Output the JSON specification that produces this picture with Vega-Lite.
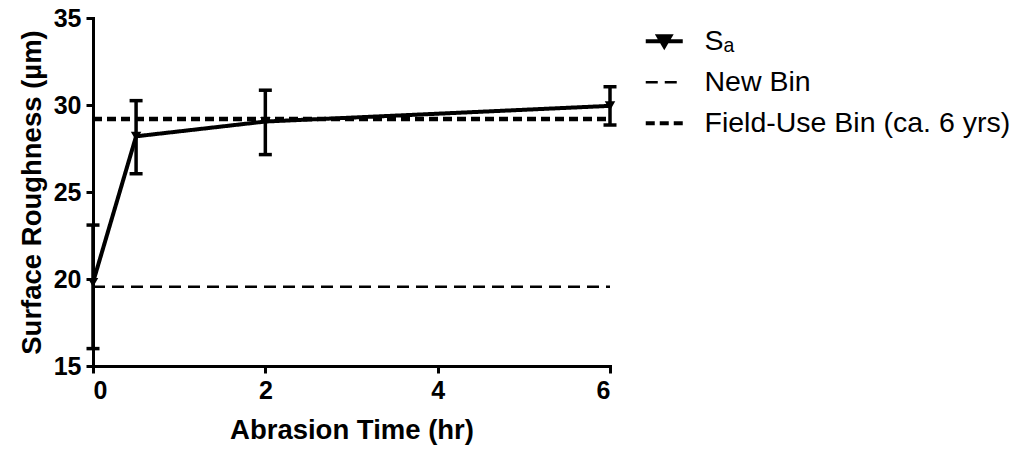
{
  "$schema": "https://vega.github.io/schema/vega-lite/v6.json",
  "width": 517,
  "height": 348,
  "autosize": {"type": "none"},
  "padding": {"left": 93, "top": 18, "right": 408, "bottom": 85},
  "background": "white",
  "config": {
    "view": {"stroke": null},
    "axis": {
      "grid": false,
      "domainColor": "black",
      "domainWidth": 3,
      "domainCap": "square",
      "tickColor": "black",
      "tickWidth": 3,
      "tickSize": 7,
      "labelFont": "Liberation Sans",
      "labelFontWeight": "bold",
      "labelFontSize": 25,
      "labelColor": "black",
      "titleFont": "Liberation Sans",
      "titleFontWeight": "bold",
      "titleFontSize": 27.5,
      "titleColor": "black"
    }
  },
  "data": {
    "values": [
      {"series": "Sₐ", "x": 0, "y": 19.8, "lo": 16.0, "hi": 23.1},
      {"series": "Sₐ", "x": 0.5, "y": 28.2, "lo": 26.05, "hi": 30.25},
      {"series": "Sₐ", "x": 2, "y": 29.05, "lo": 27.15, "hi": 30.85},
      {"series": "Sₐ", "x": 6, "y": 29.95, "lo": 28.85, "hi": 31.05},
      {"series": "New Bin", "x": 0, "y": 19.55},
      {"series": "New Bin", "x": 6, "y": 19.55},
      {"series": "Field-Use Bin (ca. 6 yrs)", "x": 0, "y": 29.2},
      {"series": "Field-Use Bin (ca. 6 yrs)", "x": 6, "y": 29.2}
    ]
  },
  "encoding": {
    "x": {
      "field": "x", "type": "quantitative",
      "scale": {"domain": [0, 6], "nice": false, "zero": false},
      "axis": {"values": [0, 2, 4, 6], "format": "d", "title": "Abrasion Time (hr)", "labelPadding": 5, "titlePadding": 13}
    }
  },
  "layer": [
    {
      "transform": [{"filter": "datum.series === 'New Bin'"}],
      "mark": {"type": "line", "color": "black", "strokeCap": "butt", "strokeWidth": 2.5},
      "encoding": {
        "y": {
          "field": "y", "type": "quantitative",
          "scale": {"domain": [15, 35], "nice": false, "zero": false},
          "axis": {"values": [15, 20, 25, 30, 35], "title": "Surface Roughness (µm)", "labelPadding": 5, "titlePadding": 7}
        },
        "strokeDash": {
          "field": "series", "type": "nominal",
          "scale": {
            "domain": ["Sₐ", "New Bin", "Field-Use Bin (ca. 6 yrs)"],
            "range": [[1, 0], [12, 7], [9, 5]]
          },
          "legend": {
            "title": null,
            "orient": "none",
            "legendX": 557,
            "legendY": 9,
            "padding": 0,
            "symbolSize": 1369,
            "symbolStrokeColor": "black",
            "labelFont": "Liberation Sans",
            "labelFontSize": 28.5,
            "labelColor": "black",
            "labelLimit": 0,
            "labelOffset": 26,
            "rowPadding": 12,
            "encode": {
              "symbols": {
                "update": {
                  "shape": {"signal": "datum.value === 'Sₐ' ? 'M-1,0L1,0M-0.32,-0.27L0.32,-0.27L0,0.27Z' : 'stroke'"},
                  "strokeWidth": {"signal": "datum.value === 'New Bin' ? 2.5 : 4"},
                  "fill": {"signal": "datum.value === 'Sₐ' ? 'black' : 'transparent'"},
                  "stroke": {"value": "black"}
                }
              }
            }
          }
        }
      }
    },
    {
      "transform": [{"filter": "datum.series === 'Field-Use Bin (ca. 6 yrs)'"}],
      "mark": {"type": "line", "color": "black", "strokeCap": "butt", "strokeWidth": 4.5},
      "encoding": {
        "y": {"field": "y", "type": "quantitative"},
        "strokeDash": {"field": "series", "type": "nominal"}
      }
    },
    {
      "transform": [{"filter": "datum.series === 'Sₐ'"}],
      "mark": {"type": "line", "color": "black", "strokeWidth": 4},
      "encoding": {
        "y": {"field": "y", "type": "quantitative"},
        "strokeDash": {"field": "series", "type": "nominal"}
      }
    },
    {
      "transform": [{"filter": "datum.series === 'Sₐ'"}],
      "mark": {"type": "rule", "color": "black", "strokeWidth": 3.5},
      "encoding": {
        "y": {"field": "lo", "type": "quantitative"},
        "y2": {"field": "hi"}
      }
    },
    {
      "transform": [{"filter": "datum.series === 'Sₐ'"}],
      "mark": {"type": "tick", "orient": "horizontal", "color": "black", "size": 13, "thickness": 3.5, "opacity": 1},
      "encoding": {
        "y": {"field": "lo", "type": "quantitative"}
      }
    },
    {
      "transform": [{"filter": "datum.series === 'Sₐ'"}],
      "mark": {"type": "tick", "orient": "horizontal", "color": "black", "size": 13, "thickness": 3.5, "opacity": 1},
      "encoding": {
        "y": {"field": "hi", "type": "quantitative"}
      }
    },
    {
      "transform": [{"filter": "datum.series === 'Sₐ'"}],
      "mark": {"type": "point", "shape": "triangle-down", "filled": true, "color": "black", "size": 110, "opacity": 1},
      "encoding": {
        "y": {"field": "y", "type": "quantitative"}
      }
    }
  ]
}
